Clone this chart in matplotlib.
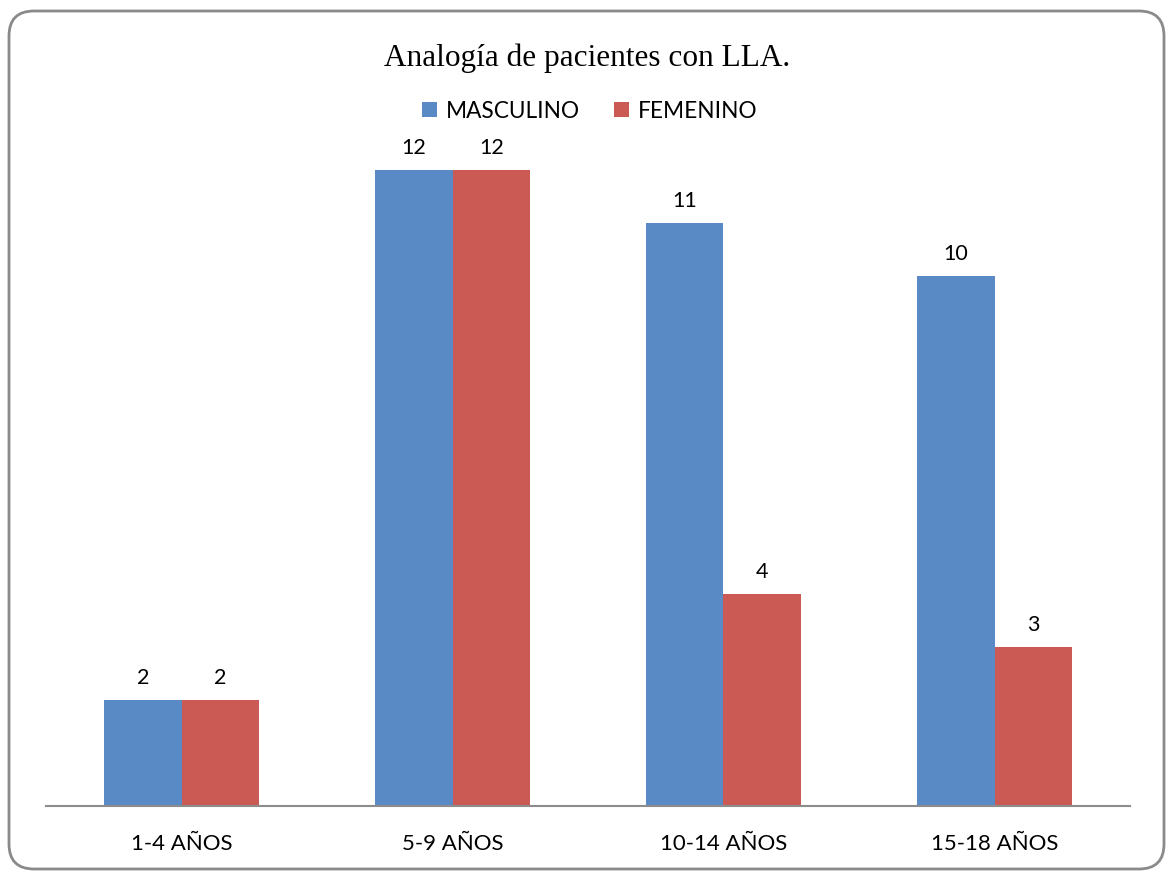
import matplotlib.pyplot as plt
import numpy as np
from matplotlib.patches import FancyBboxPatch
from matplotlib.transforms import IdentityTransform

# data
grupos = ["1-4 AÑOS", "5-9 AÑOS", "10-14 AÑOS", "15-18 AÑOS"]
masculino = [2, 12, 11, 10]
femenino = [2, 12, 4, 3]

azul = "#5A8AC6"
rojo = "#CB5A55"

W, H = 1168, 873
fig = plt.figure(figsize=(W / 100, H / 100), dpi=100)

# rounded frame around the whole chart (pixel coordinates, origin bottom-left)
marco = FancyBboxPatch((9, H - 869), 1155, 858,
                       boxstyle="round,pad=0,rounding_size=25",
                       transform=IdentityTransform(), facecolor="none",
                       edgecolor="#8a8a8a", linewidth=2, clip_on=False, zorder=-1)
fig.patches.append(marco)

ymax = 14
unidad = 53  # pixels per unit
left, right, bottom = 46, 1130, 806
top = bottom - unidad * ymax
ax = fig.add_axes([left / W, 1 - bottom / H, (right - left) / W, (bottom - top) / H])
ax.set_facecolor("none")

x = np.arange(len(grupos))
ancho = 0.286
b1 = ax.bar(x - ancho / 2, masculino, ancho, color=azul, label="MASCULINO")
b2 = ax.bar(x + ancho / 2, femenino, ancho, color=rojo, label="FEMENINO")

for barras in (b1, b2):
    for b in barras:
        ax.annotate(str(int(b.get_height())),
                    (b.get_x() + b.get_width() / 2, b.get_height()),
                    xytext=(0, 9), textcoords="offset points",
                    ha="center", va="bottom", fontsize=15.5, family="Lato")

ax.set_xlim(-0.5, len(grupos) - 0.5)
ax.set_ylim(0, ymax)
ax.set_xticks(x)
ax.set_xticklabels(grupos, fontsize=16, family="Lato")
ax.tick_params(axis="x", length=0, pad=20)
ax.set_yticks([])
for s in ("top", "left", "right"):
    ax.spines[s].set_visible(False)
ax.spines["bottom"].set_color("#8c8c8c")
ax.spines["bottom"].set_linewidth(1.5)

fig.text(0.503, 1 - 58 / H, "Analogía de pacientes con LLA.", ha="center", va="center",
         fontsize=22.5, family="Liberation Serif")

fig.legend(loc="center", bbox_to_anchor=(0.505, 1 - 111 / H), ncol=2, frameon=False,
           prop={"family": "Lato", "size": 16.3}, handlelength=0.65, handleheight=0.65,
           handletextpad=0.4, columnspacing=1.5)

fig.savefig("out.png", dpi=100)
